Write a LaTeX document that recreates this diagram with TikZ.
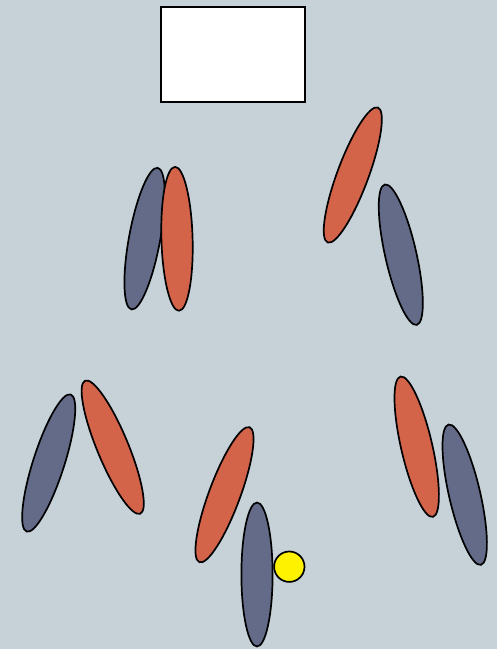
\documentclass[tikz,border=0pt]{standalone}
\definecolor{bg}{HTML}{C6D2D8}
\definecolor{slate}{HTML}{646B88}
\definecolor{rust}{HTML}{D3644A}
\tikzset{
  blob/.style={draw=black, line width=1.7pt},
  slateblob/.style={blob, fill=slate},
  rustblob/.style={blob, fill=rust},
}
\newcommand{\blob}[4]{% style, cx, cy, angle
  \draw[#1, rotate around={#4:(#2,#3)}] (#2,#3) ellipse (15.6 and 72);
}
\begin{document}
\begin{tikzpicture}[x=1pt,y=-1pt]
\fill[bg] (0,0) rectangle (497,649);
\useasboundingbox (0,0) rectangle (497,649);
% white box
\draw[line width=2pt, fill=white] (161.2,7) rectangle (304.8,102.4);
% pair 1
\blob{slateblob}{144.6}{238.6}{-10.5}
\blob{rustblob}{177}{238.8}{1.6}
% pair 2
\blob{rustblob}{352.8}{175}{-20.4}
\blob{slateblob}{400.8}{254.7}{12.8}
% pair 3
\blob{slateblob}{48.7}{463}{-17.8}
\blob{rustblob}{112.7}{447.2}{22.5}
% pair 4
\blob{rustblob}{224.5}{494.7}{-20.4}
\blob{slateblob}{257}{574.5}{0}
\draw[blob, fill=yellow] (289.3,566.7) circle (15.2);
% pair 5
\blob{rustblob}{416.7}{446.7}{13}
\blob{slateblob}{464.7}{494.7}{13}
\end{tikzpicture}
\end{document}
